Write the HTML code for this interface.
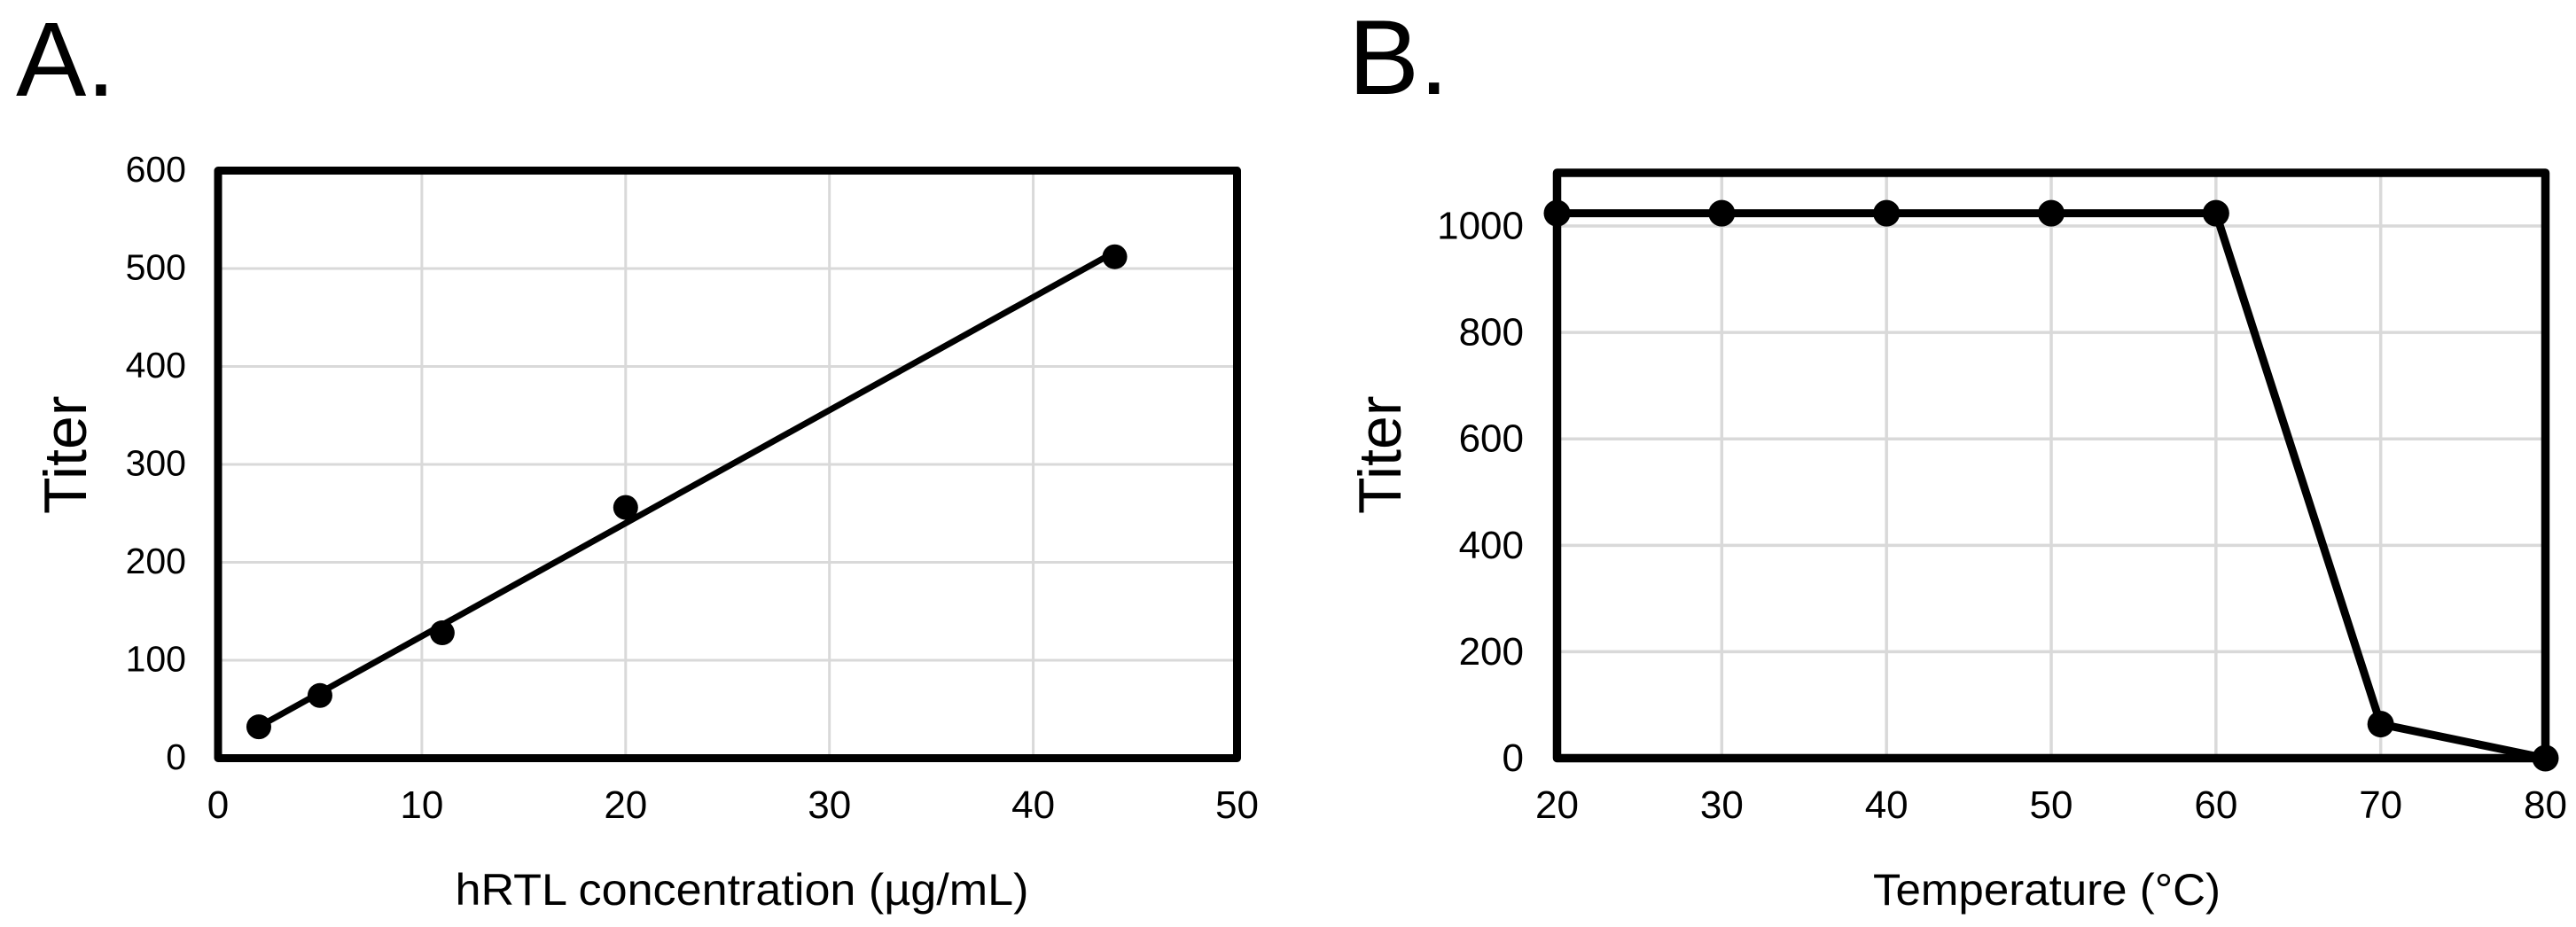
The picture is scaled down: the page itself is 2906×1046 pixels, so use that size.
<!DOCTYPE html>
<html lang="en">
<head>
<meta charset="utf-8">
<title>Titer charts</title>
<style>
  html, body { margin: 0; padding: 0; background: #fff; }
  svg { display: block; }
  text { font-family: "Liberation Sans", Arial, sans-serif; fill: #000; }
</style>
</head>
<body>
<svg id="figure" xmlns="http://www.w3.org/2000/svg" width="2906" height="1046" viewBox="0 0 2906 1046">
  <rect x="0" y="0" width="2906" height="1046" fill="#fff"/>
  <text x="18" y="108" font-size="119">A.</text>
  <text x="1521" y="106" font-size="120">B.</text>
  <g id="panel-a"></g>
  <g id="panel-b"></g>
  <text x="513.5" y="1021" font-size="50" textLength="647" lengthAdjust="spacingAndGlyphs">hRTL concentration (µg/mL)</text>
  <text x="2113" y="1021" font-size="50" textLength="392" lengthAdjust="spacingAndGlyphs">Temperature (°C)</text>
  <text transform="translate(97 580) rotate(-90)" font-size="68">Titer</text>
  <text transform="translate(1580 580) rotate(-90)" font-size="68">Titer</text>
</svg>
<script>
const concentrationValues = [2, 5, 11, 20, 44];
const concentrationTiters = [32, 64, 128, 256, 512];
const concentrationXTicks = [0, 10, 20, 30, 40, 50];
const concentrationYTicks = [0, 100, 200, 300, 400, 500, 600];

const temperatureValues = [20, 30, 40, 50, 60, 70, 80];
const temperatureTiters = [1024, 1024, 1024, 1024, 1024, 64, 0];
const temperatureXTicks = [20, 30, 40, 50, 60, 70, 80];
const temperatureYTicks = [0, 200, 400, 600, 800, 1000];

const NS = 'http://www.w3.org/2000/svg';

function make(parent, tag, attrs) {
  const el = document.createElementNS(NS, tag);
  for (const key in attrs) el.setAttribute(key, attrs[key]);
  parent.appendChild(el);
  return el;
}

function linearScale(d0, d1, r0, r1) {
  return function (v) { return r0 + (v - d0) * (r1 - r0) / (d1 - d0); };
}

function linearFit(xs, ys) {
  const mx = xs.reduce(function (a, b) { return a + b; }, 0) / xs.length;
  const my = ys.reduce(function (a, b) { return a + b; }, 0) / ys.length;
  let sxy = 0, sxx = 0;
  xs.forEach(function (x, i) { sxy += (x - mx) * (ys[i] - my); sxx += (x - mx) * (x - mx); });
  const slope = sxy / sxx;
  return { slope: slope, intercept: my - slope * mx };
}

function drawChart(cfg) {
  const g = document.getElementById(cfg.id);
  const sx = linearScale(cfg.xMin, cfg.xMax, cfg.left, cfg.right);
  const sy = linearScale(cfg.yMin, cfg.yMax, cfg.bottom, cfg.top);

  cfg.yTicks.forEach(function (t) {
    if (t !== cfg.yMin && t !== cfg.yMax) {
      const line = make(g, 'line', { x1: cfg.left, x2: cfg.right, y1: sy(t), y2: sy(t), stroke: '#d9d9d9', 'stroke-width': cfg.gridWidth });
      
      
    }
    const label = make(g, 'text', { x: cfg.yLabelRight, y: sy(t) + cfg.yLabelDy, 'font-size': cfg.yFont, 'text-anchor': 'end' });
    label.textContent = t;
    
    
  });

  cfg.xTicks.forEach(function (t) {
    if (t !== cfg.xMin && t !== cfg.xMax) {
      const line = make(g, 'line', { x1: sx(t), x2: sx(t), y1: cfg.top, y2: cfg.bottom, stroke: '#d9d9d9', 'stroke-width': cfg.gridWidth });
      
      
    }
    const label = make(g, 'text', { x: sx(t), y: cfg.xLabelY, 'font-size': cfg.xFont, 'text-anchor': 'middle' });
    label.textContent = t;
    
    
  });

  const frame = make(g, 'rect', {
    x: cfg.left, y: cfg.top, width: cfg.right - cfg.left, height: cfg.bottom - cfg.top,
    fill: 'none', stroke: '#000', 'stroke-width': cfg.frameWidth, 'stroke-linejoin': 'round'
  });
  
  

  let points;
  if (cfg.trend) {
    const fit = linearFit(cfg.xs, cfg.ys);
    const first = cfg.xs[0];
    const last = cfg.xs[cfg.xs.length - 1];
    points = sx(first) + ',' + sy(fit.slope * first + fit.intercept) + ' ' + sx(last) + ',' + sy(fit.slope * last + fit.intercept);
  } else {
    points = cfg.xs.map(function (x, i) { return sx(x) + ',' + sy(cfg.ys[i]); }).join(' ');
  }
  const path = make(g, 'polyline', { points: points, fill: 'none', stroke: '#000', 'stroke-width': cfg.lineWidth, 'stroke-linejoin': 'round' });
  
  

  cfg.xs.forEach(function (x, i) {
    const dot = make(g, 'circle', { cx: sx(x), cy: sy(cfg.ys[i]), r: cfg.markerRadius, fill: '#000' });
    
    
  });
}

drawChart({
  id: 'panel-a', xs: concentrationValues, ys: concentrationTiters,
  xTicks: concentrationXTicks, yTicks: concentrationYTicks,
  xMin: 0, xMax: 50, yMin: 0, yMax: 600,
  left: 246, right: 1395.5, top: 192.5, bottom: 855.5,
  frameWidth: 9, lineWidth: 7, markerRadius: 14, trend: true, gridWidth: 3,
  yLabelRight: 210, yLabelDy: 12.5, yFont: 41, xLabelY: 923, xFont: 44
});

drawChart({
  id: 'panel-b', xs: temperatureValues, ys: temperatureTiters,
  xTicks: temperatureXTicks, yTicks: temperatureYTicks,
  xMin: 20, xMax: 80, yMin: 0, yMax: 1100,
  left: 1756.5, right: 2871.5, top: 195, bottom: 855.5,
  frameWidth: 9.5, lineWidth: 9, markerRadius: 15, trend: false, gridWidth: 3.5,
  yLabelRight: 1719, yLabelDy: 14.5, yFont: 44, xLabelY: 923, xFont: 44
});
</script>
</body>
</html>
